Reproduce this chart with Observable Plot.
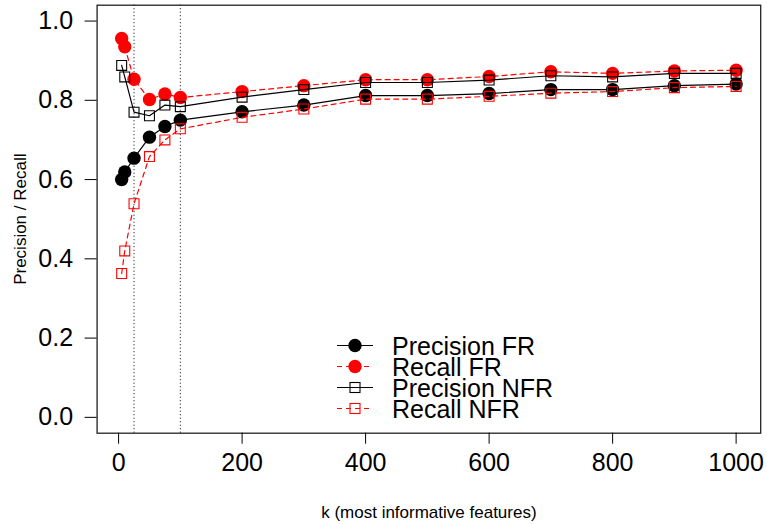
<!DOCTYPE html>
<html>
<head>
<meta charset="utf-8">
<script src="https://cdn.jsdelivr.net/npm/d3@7"></script>
<script src="https://cdn.jsdelivr.net/npm/@observablehq/plot@0.6"></script>
<style>
  html, body { margin: 0; padding: 0; background: #fff; }
  #wrap { position: relative; width: 767px; height: 524px; }
  #wrap svg { position: absolute; left: 0; top: 0; }
</style>
</head>
<body>
<div id="wrap"></div>
<script>
// ---- data ----
const k = [5, 10, 25, 50, 75, 100, 200, 300, 400, 500, 600, 700, 800, 900, 1000];
const precisionFR  = [0.600, 0.619, 0.654, 0.707, 0.734, 0.750, 0.771, 0.788, 0.812, 0.812, 0.817, 0.827, 0.827, 0.837, 0.841];
const recallFR     = [0.956, 0.935, 0.853, 0.802, 0.816, 0.807, 0.822, 0.837, 0.852, 0.852, 0.860, 0.872, 0.868, 0.874, 0.876];
const precisionNFR = [0.888, 0.859, 0.770, 0.761, 0.788, 0.784, 0.808, 0.827, 0.845, 0.845, 0.851, 0.862, 0.859, 0.868, 0.868];
const recallNFR    = [0.363, 0.420, 0.539, 0.658, 0.700, 0.728, 0.757, 0.778, 0.803, 0.803, 0.810, 0.818, 0.822, 0.832, 0.835];
const cutoffs = [25, 100];
const xTicks = [0, 200, 400, 600, 800, 1000];
const yTicks = [0, 0.2, 0.4, 0.6, 0.8, 1.0];
const seriesNames = ["Precision FR", "Recall FR", "Precision NFR", "Recall NFR"];
const xLabel = "k (most informative features)";
const yLabel = "Precision / Recall";

// ---- styles ----
const FONT = "'Liberation Sans', Arial, Helvetica, sans-serif";
const styles = [
  {color: "#000000", dash: null,  symbol: "circle"},
  {color: "#ff0000", dash: "5,4", symbol: "circle"},
  {color: "#000000", dash: null,  symbol: "square"},
  {color: "#ff0000", dash: "5,4", symbol: "square"}
];
const values = [precisionFR, recallFR, precisionNFR, recallNFR];
const series = values.map((vals, i) => k.map((x, j) => ({k: x, v: vals[j], s: seriesNames[i]})));

const marks = [
  Plot.ruleX(cutoffs, {stroke: "#000", strokeWidth: 1, strokeDasharray: "1,2.5"})
];
series.forEach((data, i) => {
  const st = styles[i];
  marks.push(Plot.line(data, {x: "k", y: "v", stroke: st.color, strokeWidth: 1.2, strokeDasharray: st.dash || undefined}));
  if (st.symbol === "circle") {
    marks.push(Plot.dot(data, {x: "k", y: "v", r: 6.7, fill: st.color, stroke: "none"}));
  } else {
    marks.push(Plot.dot(data, {x: "k", y: "v", r: 5.6, symbol: "square", fill: "none", stroke: st.color, strokeWidth: 1.1}));
  }
});
marks.push(
  Plot.frame({stroke: "#222", strokeWidth: 1.3}),
  Plot.axisX({ticks: xTicks, tickSize: 11, tickPadding: 9, fontSize: 25, label: null, tickFormat: d3.format("d")}),
  Plot.axisY({ticks: yTicks, tickSize: 12, tickPadding: 12, fontSize: 25, label: null, tickFormat: d3.format(".1f")}),
  Plot.text([xLabel], {text: d => d, frameAnchor: "bottom", dy: 79, fontSize: 17, textAnchor: "middle", lineAnchor: "middle"}),
  Plot.text([yLabel], {text: d => d, frameAnchor: "left", dx: -77, rotate: -90, fontSize: 17, textAnchor: "middle", lineAnchor: "middle"})
);

const chart = Plot.plot({
  width: 767,
  height: 524,
  marginLeft: 96.6,
  marginRight: 6.8,
  marginTop: 4.7,
  marginBottom: 91.3,
  x: {domain: [-34.8, 1039.8]},
  y: {domain: [-0.04, 1.04]},
  style: {fontFamily: FONT, background: "white", color: "black", overflow: "visible"},
  marks
});
const wrap = document.getElementById("wrap");
wrap.appendChild(chart);

// ---- legend (inside the plot area, no box) ----
const leg = d3.select(wrap).append("svg")
  .attr("width", 767).attr("height", 524)
  .style("pointer-events", "none")
  .style("font-family", FONT);
const lx0 = 337, lx1 = 373, lsym = 355, ltext = 392, ly0 = 345.5, lstep = 21;
seriesNames.forEach((name, i) => {
  const st = styles[i];
  const y = ly0 + i * lstep;
  const g = leg.append("g");
  g.append("line").attr("x1", lx0).attr("x2", lx1).attr("y1", y).attr("y2", y)
    .attr("stroke", st.color).attr("stroke-width", 1.2)
    .attr("stroke-dasharray", st.dash || null);
  if (st.symbol === "circle") {
    g.append("circle").attr("cx", lsym).attr("cy", y).attr("r", 6.7).attr("fill", st.color);
  } else {
    g.append("rect").attr("x", lsym - 5).attr("y", y - 5).attr("width", 10).attr("height", 10)
      .attr("fill", "none").attr("stroke", st.color).attr("stroke-width", 1.1);
  }
  g.append("text").attr("x", ltext).attr("y", y).attr("dy", "0.36em")
    .attr("font-size", 25).attr("fill", "#000").text(name);
});
</script>
</body>
</html>
